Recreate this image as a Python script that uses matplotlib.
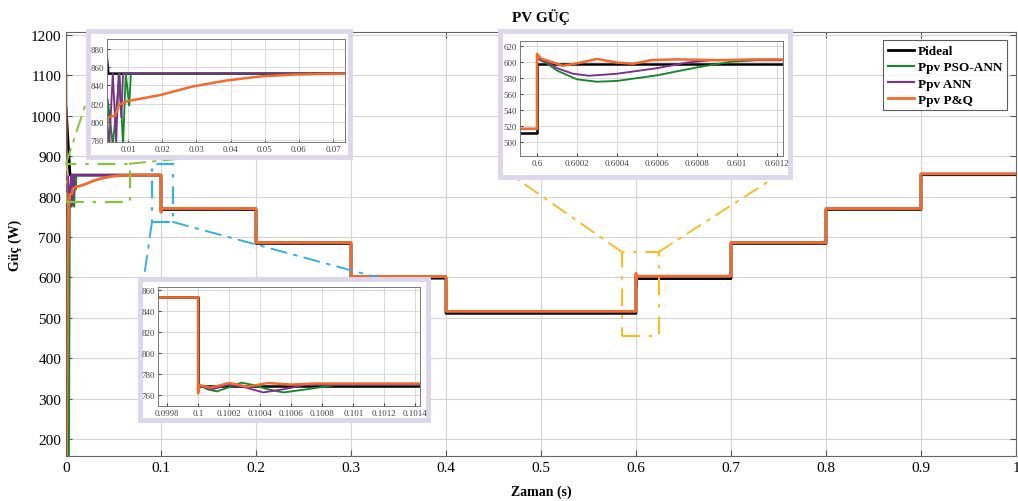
import matplotlib
matplotlib.use("Agg")
import matplotlib.pyplot as plt
from matplotlib.patches import Rectangle, FancyBboxPatch, ConnectionPatch

# -----------------------------
# Data
# -----------------------------
step_t = [0.0, 0.1, 0.2, 0.3, 0.4, 0.6, 0.7, 0.8, 0.9, 1.0]
ideal_levels = [853, 768, 684, 598, 511, 597, 684, 768, 854]
pso_levels = [853, 770, 686, 602, 516, 602, 686, 770, 856]
ann_levels = [853, 770, 686, 602, 516, 602, 686, 770, 856]
pq_levels = [853, 770, 686, 602, 516, 603, 686, 770, 856]

# start-up transients
ideal_start_t = [0.0, 0.0042]
ideal_start_v = [1020, 853]
pso_start_t = [0.0, 0.003, 0.004, 0.0055, 0.0075, 0.0085, 0.0093, 0.0103, 0.0108]
pso_start_v = [158, 158, 825, 775, 853, 775, 853, 818, 853]
ann_start_t = [0.0, 0.002, 0.0045, 0.0055, 0.0065, 0.0072, 0.008, 0.0085]
ann_start_v = [158, 850, 778, 853, 778, 853, 805, 853]
pq_start_t = [0.0, 0.0006, 0.0015, 0.003, 0.004, 0.0062, 0.0073, 0.01, 0.0194,
              0.029, 0.039, 0.0489, 0.0585, 0.0735]
pq_start_v = [1100, 158, 600, 780, 805, 807, 819, 823, 829.5, 839, 845.6, 850, 852, 853]

# transients after the step at t = 0.1
pso_t01 = [0.1, 0.10001, 0.10006, 0.10012, 0.1002, 0.10028, 0.10036, 0.10045, 0.10055, 0.1007, 0.1009]
pso_v01 = [769, 769, 765, 763, 767, 771.4, 769, 765, 762, 765, 769.5]
ann_t01 = [0.1, 0.10004, 0.10009, 0.1002, 0.1003, 0.10042, 0.10055, 0.1007]
ann_v01 = [769, 767, 765, 769.5, 767, 762, 765, 769.5]
pq_t01 = [0.1, 0.10001, 0.10008, 0.1002, 0.10032, 0.10045, 0.1006, 0.10075]
pq_v01 = [761, 769, 766.5, 771, 767.5, 771, 769.5, 770.5]

# transients after the step at t = 0.6
pso_t06 = [0.6, 0.60005, 0.6001, 0.6002, 0.6003, 0.6004, 0.6006, 0.6008, 0.60097, 0.6011]
pso_v06 = [604, 598, 589, 578, 575, 576, 583, 593, 600, 602]
ann_t06 = [0.6, 0.60005, 0.6001, 0.60018, 0.60026, 0.6004, 0.6006, 0.60075, 0.60087, 0.601]
ann_v06 = [604, 600, 592, 585, 582.5, 585, 592, 599, 602, 602]
pq_t06 = [0.6, 0.60002, 0.60013, 0.6002, 0.6003, 0.6004, 0.60048, 0.60057, 0.6007, 0.6009, 0.6011]
pq_v06 = [610, 604, 595, 598, 603.5, 599, 597.5, 602, 603, 602, 603]

names = ['Pideal', 'Ppv PSO-ANN', 'Ppv ANN', 'Ppv P&Q']
colors = ['#000000', '#16882a', '#7e2f8e', '#f26a2c']
widths = [2.0, 1.5, 1.5, 2.0]


def build(start_t, start_v, levels, trans):
    t = list(start_t)
    v = list(start_v)
    for i in range(1, len(levels)):
        b = step_t[i]
        t.append(b)
        v.append(levels[i - 1])
        if b in trans:
            t += trans[b][0]
            v += trans[b][1]
        else:
            t.append(b)
            v.append(levels[i])
    t.append(1.0)
    v.append(levels[-1])
    return t, v


series = [
    build(ideal_start_t, ideal_start_v, ideal_levels, {}),
    build(pso_start_t, pso_start_v, pso_levels, {0.1: (pso_t01, pso_v01), 0.6: (pso_t06, pso_v06)}),
    build(ann_start_t, ann_start_v, ann_levels, {0.1: (ann_t01, ann_v01), 0.6: (ann_t06, ann_v06)}),
    build(pq_start_t, pq_start_v, pq_levels, {0.1: (pq_t01, pq_v01), 0.6: (pq_t06, pq_v06)}),
]

# -----------------------------
# Figure
# -----------------------------
W, H = 1018, 502
plt.rcParams['font.family'] = ['Liberation Serif', 'DejaVu Serif']
fig = plt.figure(figsize=(W / 100, H / 100), dpi=100)


def px(x0, y0, x1, y1):
    return [x0 / W, 1 - y1 / H, (x1 - x0) / W, (y1 - y0) / H]


def fp(x, y):
    return (x / W, 1 - y / H)


ax = fig.add_axes(px(66, 33, 1016, 457))
for (t, v), c, lw, n in zip(series, colors, widths, names):
    ax.plot(t, v, color=c, lw=lw, label=n)
ax.set_xlim(0, 1)
ax.set_ylim(158, 1207)
ax.set_xticks([0, 0.1, 0.2, 0.3, 0.4, 0.5, 0.6, 0.7, 0.8, 0.9, 1],
              ['0', '0.1', '0.2', '0.3', '0.4', '0.5', '0.6', '0.7', '0.8', '0.9', '1'])
ax.set_yticks(range(200, 1201, 100))
ax.tick_params(labelsize=11, direction='in', top=True, right=True, length=4, color='#555555')
ax.grid(True, color='#d4d4d4', lw=0.8)
for s in ax.spines.values():
    s.set_color('#666666')
ax.set_title('PV GÜÇ', fontsize=11, fontweight='bold', pad=8)
ax.set_xlabel('Zaman (s)', fontsize=10, fontweight='bold', labelpad=8)
ax.set_ylabel('Güç (W)', fontsize=10, fontweight='bold', labelpad=6)
leg = ax.legend(loc='upper right', bbox_to_anchor=(0.9975, 0.996),
                prop={'weight': 'bold', 'size': 9.5}, fancybox=False, edgecolor='#333333',
                handlelength=2.0, borderpad=0.35, labelspacing=0.3, handletextpad=0.3)
leg.get_frame().set_linewidth(0.8)

# zoom boxes on the main axes
dash = (0, (8, 4, 1.5, 4))
ax.add_patch(Rectangle((0.0, 787), 0.067, 94, fill=False, ec='#86c440', lw=1.6, ls=dash, zorder=6))
ax.add_patch(Rectangle((0.0905, 737), 0.022, 144, fill=False, ec='#3aaee0', lw=1.6, ls=dash, zorder=6))
ax.add_patch(Rectangle((0.585, 455), 0.039, 208, fill=False, ec='#f5bd2a', lw=1.6, ls=dash, zorder=6))

# connector lines
links = [
    ((0.0, 881), (107, 40), '#86c440'),
    ((0.067, 881), (345, 143), '#86c440'),
    ((0.0905, 737), (143, 285), '#3aaee0'),
    ((0.1125, 737), (420, 290), '#3aaee0'),
    ((0.585, 663), (510, 175), '#f5bd2a'),
    ((0.624, 663), (780, 175), '#f5bd2a'),
]
for a, b, c in links:
    cp = ConnectionPatch(xyA=a, coordsA=ax.transData, xyB=fp(*b), coordsB=fig.transFigure,
                         color=c, lw=1.4, ls=dash, zorder=3)
    fig.add_artist(cp)

# insets
insets = [
    dict(frame=(88, 32, 350, 158), box=(107, 40, 345, 143), xlim=(0.0038, 0.0735), ylim=(778, 891),
         xt=[0.01, 0.02, 0.03, 0.04, 0.05, 0.06, 0.07],
         xl=['0.01', '0.02', '0.03', '0.04', '0.05', '0.06', '0.07'],
         yt=[780, 800, 820, 840, 860, 880]),
    dict(frame=(500, 32, 790, 178), box=(520, 42, 783, 157), xlim=(0.599915, 0.60123), ylim=(482, 626),
         xt=[0.6, 0.6002, 0.6004, 0.6006, 0.6008, 0.601, 0.6012],
         xl=['0.6', '0.6002', '0.6004', '0.6006', '0.6008', '0.601', '0.6012'],
         yt=[500, 520, 540, 560, 580, 600, 620]),
    dict(frame=(140, 280, 428, 421), box=(158, 288, 420, 407), xlim=(0.099742, 0.10143), ylim=(749, 863),
         xt=[0.0998, 0.1, 0.1002, 0.1004, 0.1006, 0.1008, 0.101, 0.1012, 0.1014],
         xl=['0.0998', '0.1', '0.1002', '0.1004', '0.1006', '0.1008', '0.101', '0.1012', '0.1014'],
         yt=[760, 780, 800, 820, 840, 860]),
]
for ins in insets:
    x0, y0, x1, y1 = ins['frame']
    l, b = fp(x0, y1)
    fr = FancyBboxPatch((l, b), (x1 - x0) / W, (y1 - y0) / H, boxstyle='square,pad=0',
                        transform=fig.transFigure, fc='white', ec='#ddd7ec', lw=3.5, zorder=4)
    fig.add_artist(fr)
    ia = fig.add_axes(px(*ins['box']), zorder=5)
    for (t, v), c, lw in zip(series, colors, widths):
        ia.plot(t, v, color=c, lw=lw * 0.9)
    ia.set_xlim(*ins['xlim'])
    ia.set_ylim(*ins['ylim'])
    ia.set_xticks(ins['xt'], ins['xl'])
    ia.set_yticks(ins['yt'])
    ia.tick_params(labelsize=6.5, direction='in', length=2, pad=2, colors='#444444')
    ia.grid(True, color='#d8d8d8', lw=0.7)
    for s in ia.spines.values():
        s.set_color('#777777')
        s.set_linewidth(0.7)

fig.savefig('out.png', dpi=100)
